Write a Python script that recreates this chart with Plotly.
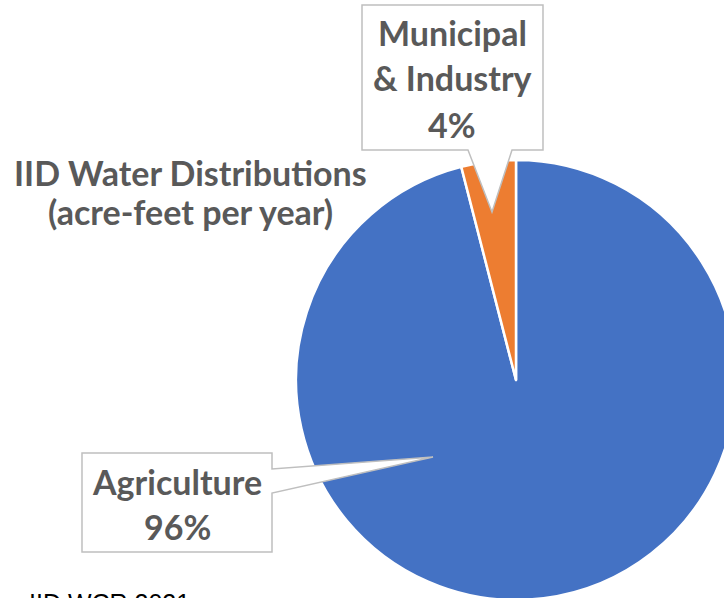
import plotly.graph_objects as go

# Data: share of IID water distributions by use
categories = ["Agriculture", "Municipal & Industry"]
shares = [96, 4]
colors = ["#4472C4", "#ED7D31"]

title_lines = ["IID Water Distributions", "(acre-feet per year)"]
muni_lines = ["Municipal", "& Industry", f"{shares[1]}%"]
ag_lines = ["Agriculture", f"{shares[0]}%"]
source_note = "IID WCR 2021"

W, H = 740, 602
TXT = "#595959"
FONT = "Lato"


def px(x, y):
    """Pixel position (from top-left) to paper coordinates."""
    return x / W, 1 - y / H


def path(points):
    pts = [px(x, y) for x, y in points]
    return "M " + " L ".join(f"{a:.5f},{b:.5f}" for a, b in pts) + " Z"


cx, cy, r = 516, 380, 220
x0, y0 = px(cx - r, cy + r)
x1, y1 = px(cx + r, cy - r)

fig = go.Figure(
    go.Pie(
        labels=categories,
        values=shares,
        sort=False,
        direction="clockwise",
        rotation=0,
        marker=dict(colors=colors, line=dict(color="white", width=2.5)),
        textinfo="none",
        hoverinfo="label+percent",
        domain=dict(x=[x0, x1], y=[y0, y1]),
        showlegend=False,
    )
)

callout_line = dict(color="#BFBFBF", width=1.5)
shapes = [
    # Municipal & Industry callout with pointer into the orange slice
    dict(
        type="path", xref="paper", yref="paper",
        path=path([(362, 5), (543, 5), (543, 150), (512, 150), (492, 212),
                   (468, 150), (362, 150)]),
        fillcolor="white", line=callout_line, layer="above",
    ),
    # Agriculture callout with pointer into the blue slice
    dict(
        type="path", xref="paper", yref="paper",
        path=path([(82, 453), (272, 453), (272, 469), (433, 457), (272, 493),
                   (272, 552), (82, 552)]),
        fillcolor="white", line=callout_line, layer="above",
    ),
]

annotations = []


def label(text, x, y, size=34, color=TXT, bold=True, family=FONT, xanchor="center"):
    ax, ay = px(x, y)
    annotations.append(dict(
        text=f"<b>{text}</b>" if bold else text,
        x=ax, y=ay, xref="paper", yref="paper",
        xanchor=xanchor, yanchor="middle", showarrow=False,
        font=dict(family=family, size=size, color=color),
    ))


# Title (two lines)
for t, yy in zip(title_lines, [172, 211]):
    label(t, 190, yy)

# Callout texts
for t, yy in zip(muni_lines, [33, 78, 125]):
    label(t, 452, yy)
for t, yy in zip(ag_lines, [481, 526]):
    label(t, 177, yy)

# Source note along the bottom edge
label(source_note, 27, 603, size=25, color="black", bold=False,
      family="Liberation Sans", xanchor="left")

fig.update_layout(
    width=W, height=H,
    margin=dict(l=0, r=0, t=0, b=0),
    paper_bgcolor="white",
    plot_bgcolor="white",
    shapes=shapes,
    annotations=annotations,
)

fig.write_html("out.html")
